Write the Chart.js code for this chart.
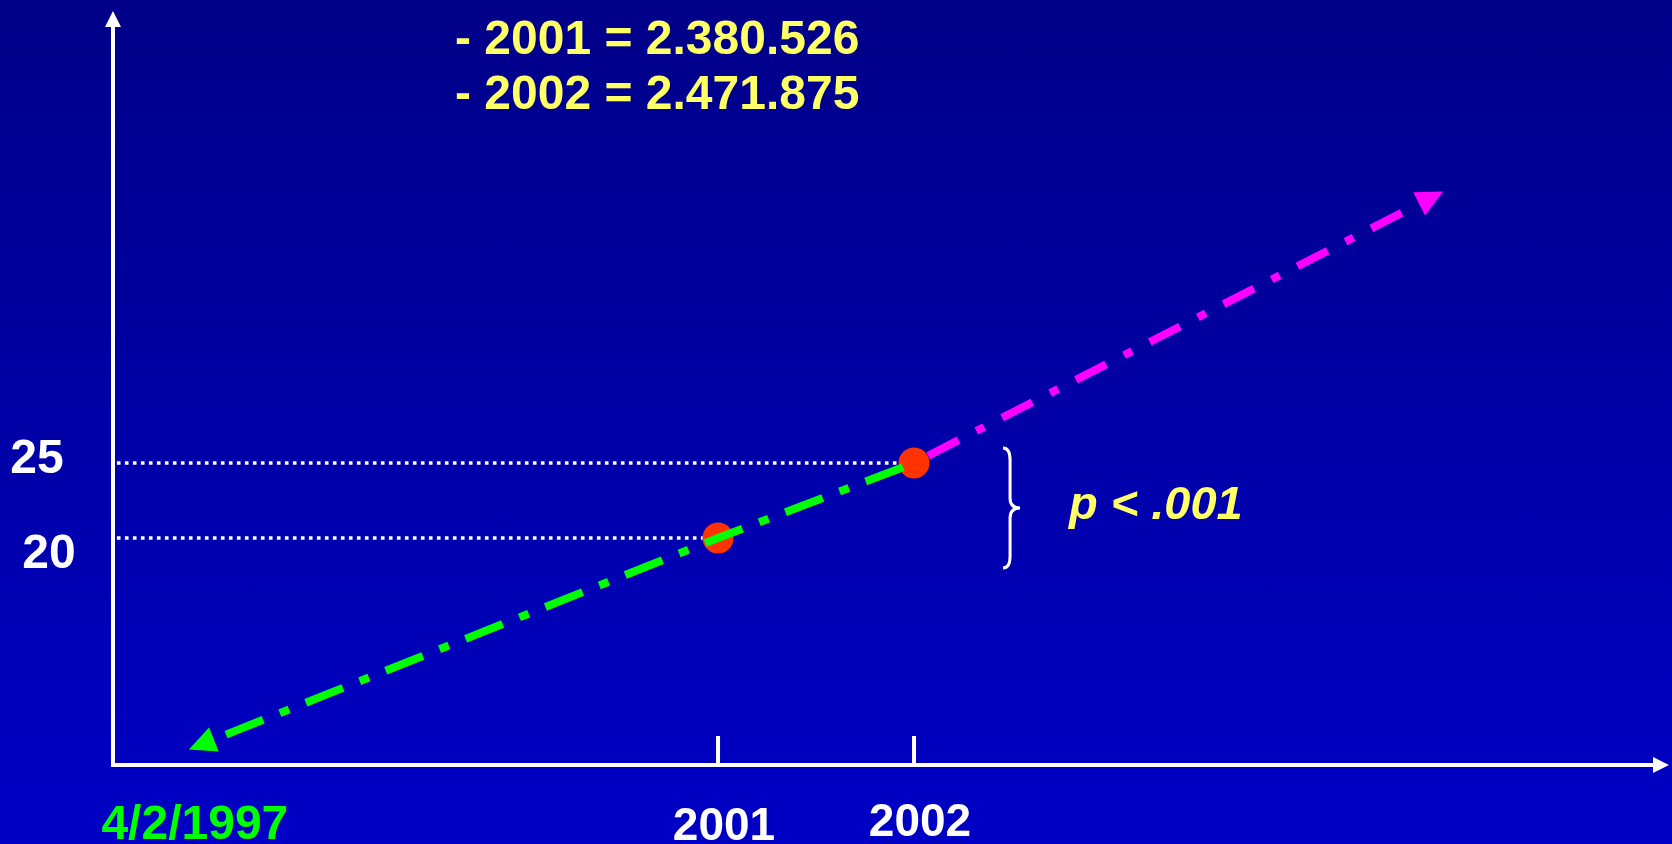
<!DOCTYPE html>
<html>
<head>
<meta charset="utf-8">
<title>2001 - 2002</title>
<script src="https://cdn.jsdelivr.net/npm/chart.js@4.4.1/dist/chart.umd.min.js"></script>
<style>
  html, body { margin: 0; padding: 0; }
  body { width: 1672px; height: 844px; overflow: hidden;
         background: linear-gradient(to bottom, #000088 0%, #0000c6 100%); }
</style>
</head>
<body>
<canvas id="c" width="1672" height="844"></canvas>
<script>
// ---- values ----
const HEADER = ['- 2001 = 2.380.526', '- 2002 = 2.471.875'];
const X_TICKS = [1998.3, 2001, 2002];
const X_LABELS = ['4/2/1997', '2001', '2002'];
const Y_TICKS = [20, 25];
const Y_LABELS = ['20', '25'];
const YEARS = [2001, 2002];
const SCORES = [20, 25];
const PAST = [{ x: 1998.3, y: 5.9 }, { x: 2001, y: 20 }, { x: 2002, y: 25 }];  // green, back to 4/2/1997
const FUTURE = [{ x: 2002, y: 25 }, { x: 2004.7, y: 43.1 }];                   // magenta, projection
const P_TEXT = 'p < .001';

// axis range (so the slide geometry fits)
const X_MIN = 1997.913, X_MAX = 2005.852;
const Y_MIN = 4.867, Y_MAX = 55.133;

const FONT = '"Liberation Sans", Arial, sans-serif';
const YELLOW = '#ffff66', GREEN = '#00ff00', MAGENTA = '#ff00ff', RED = '#ff3300', WHITE = '#ffffff';

const points = YEARS.map((x, i) => ({ x, y: SCORES[i] }));
const guide = (x, y) => [{ x: X_MIN + 0.02, y }, { x, y }];

function arrowHead(ctx, tip, from, len, half, color) {
  const a = Math.atan2(tip.y - from.y, tip.x - from.x);
  const c = Math.cos(a), s = Math.sin(a);
  const bx = tip.x - c * len, by = tip.y - s * len;
  ctx.fillStyle = color;
  ctx.beginPath();
  ctx.moveTo(tip.x, tip.y);
  ctx.lineTo(bx - s * half, by + c * half);
  ctx.lineTo(bx + s * half, by - c * half);
  ctx.closePath();
  ctx.fill();
}

const slide = {
  id: 'slide',
  beforeDatasetsDraw(chart) {
    const { ctx, chartArea: a, scales: { x } } = chart;
    ctx.save();
    ctx.strokeStyle = WHITE; ctx.lineWidth = 4; ctx.lineCap = 'butt';
    ctx.beginPath();
    ctx.moveTo(a.left, a.bottom + 2); ctx.lineTo(a.left, a.top + 14);
    ctx.moveTo(a.left - 2, a.bottom); ctx.lineTo(a.right - 14, a.bottom);
    // tick marks at the two survey years
    YEARS.forEach(v => { const px = x.getPixelForValue(v); ctx.moveTo(px, a.bottom); ctx.lineTo(px, a.bottom - 29); });
    ctx.stroke();
    arrowHead(ctx, { x: a.left, y: a.top }, { x: a.left, y: a.bottom }, 16, 8, WHITE);
    arrowHead(ctx, { x: a.right, y: a.bottom }, { x: a.left, y: a.bottom }, 16, 8, WHITE);
    ctx.restore();
  },
  afterDatasetsDraw(chart) {
    const { ctx, chartArea: a, scales: { x, y } } = chart;
    ctx.save();
    // arrowheads on the trend lines
    const g = chart.getDatasetMeta(2).data, m = chart.getDatasetMeta(3).data;
    arrowHead(ctx, g[0], g[1], 27, 13, GREEN);
    arrowHead(ctx, m[m.length - 1], m[m.length - 2], 27, 13, MAGENTA);

    // brace between the two values
    const bx = x.getPixelForValue(2002.49);
    const t = y.getPixelForValue(26), b = y.getPixelForValue(18), mid = (t + b) / 2;
    ctx.strokeStyle = WHITE; ctx.lineWidth = 3;
    ctx.beginPath();
    ctx.moveTo(bx - 7, t);
    ctx.quadraticCurveTo(bx, t, bx, t + 12);
    ctx.lineTo(bx, mid - 10);
    ctx.quadraticCurveTo(bx, mid, bx + 10, mid);
    ctx.quadraticCurveTo(bx, mid, bx, mid + 10);
    ctx.lineTo(bx, b - 12);
    ctx.quadraticCurveTo(bx, b, bx - 7, b);
    ctx.stroke();

    // texts
    ctx.textBaseline = 'middle';
    ctx.fillStyle = YELLOW; ctx.textAlign = 'left';
    ctx.font = 'bold 48px ' + FONT;
    ctx.fillText(HEADER[0], 455, 41);
    ctx.fillText(HEADER[1], 455, 96);
    ctx.font = 'italic bold 47px ' + FONT;
    ctx.fillText(P_TEXT, 1069, 506);

    ctx.textAlign = 'center'; ctx.fillStyle = WHITE;
    ctx.font = 'bold 48px ' + FONT;
    const yDx = [49, 37], yDy = [17, -3];
    Y_TICKS.forEach((v, i) => ctx.fillText(Y_LABELS[i], yDx[i], y.getPixelForValue(v) + yDy[i]));

    const xDy = [61, 62, 58], xSize = [48, 46, 46];
    X_TICKS.forEach((v, i) => {
      ctx.fillStyle = i === 0 ? GREEN : WHITE;
      ctx.font = 'bold ' + xSize[i] + 'px ' + FONT;
      ctx.fillText(X_LABELS[i], x.getPixelForValue(v) + 6, a.bottom + xDy[i]);
    });
    ctx.restore();
  }
};

const dashLine = (data, color, dash, offset, order) => ({
  data, borderColor: color, borderWidth: 8, borderDash: dash, borderDashOffset: offset,
  borderCapStyle: 'butt', pointRadius: 0, tension: 0, fill: false, order
});

new Chart(document.getElementById('c'), {
  type: 'line',
  data: {
    datasets: [
      { data: guide(2002, 25), borderColor: WHITE, borderWidth: 3.6, borderDash: [3.6, 4.4],
        borderCapStyle: 'butt', pointRadius: 0, order: 5 },
      { data: guide(2001, 20), borderColor: WHITE, borderWidth: 3.6, borderDash: [3.6, 4.4],
        borderCapStyle: 'butt', pointRadius: 0, order: 5 },
      dashLine(PAST, GREEN, [40, 18, 10, 18], 46, 1),
      dashLine(FUTURE, MAGENTA, [34, 20, 9, 20], 67, 1),
      { data: points, showLine: false, pointRadius: 15.5, pointHoverRadius: 15.5,
        backgroundColor: RED, borderWidth: 0, order: 3 }
    ]
  },
  options: {
    responsive: false,
    animation: false,
    events: [],
    layout: { autoPadding: false, padding: { left: 113, right: 3, top: 11, bottom: 79 } },
    plugins: { legend: { display: false }, tooltip: { enabled: false } },
    scales: {
      x: { type: 'linear', min: X_MIN, max: X_MAX, display: false },
      y: { type: 'linear', min: Y_MIN, max: Y_MAX, display: false }
    }
  },
  plugins: [slide]
});
</script>
</body>
</html>
